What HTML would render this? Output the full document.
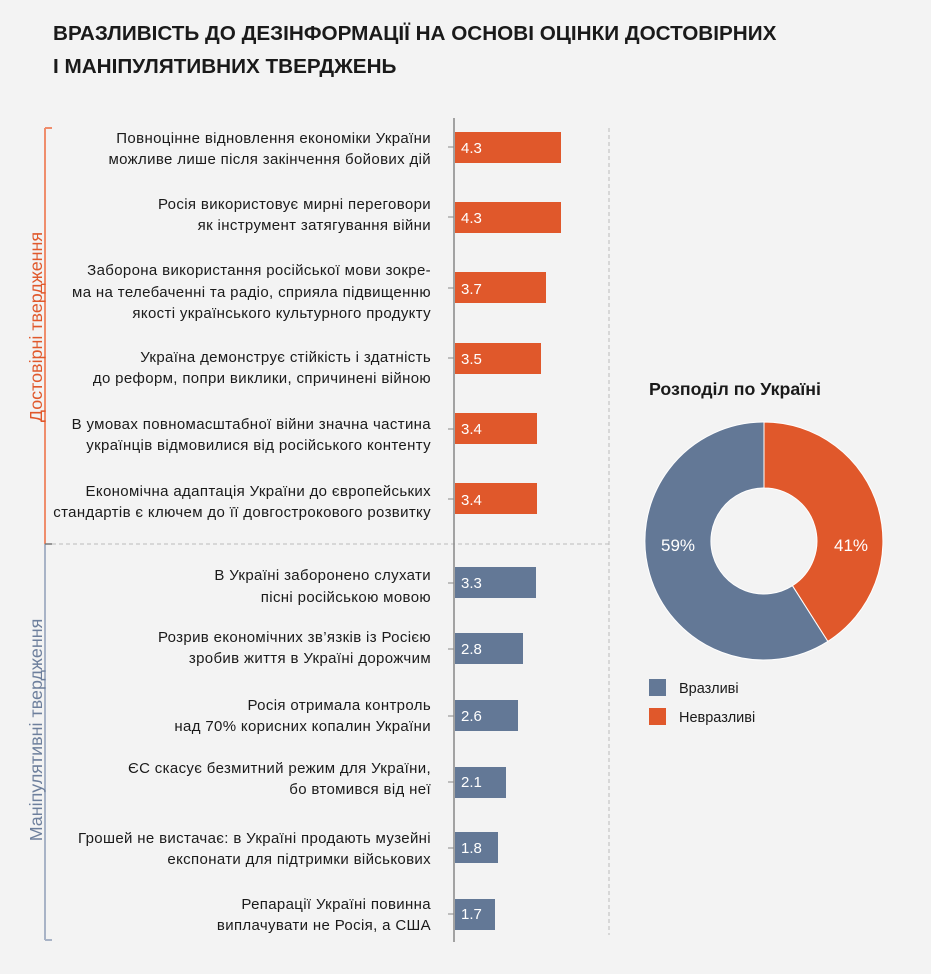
<!DOCTYPE html>
<html><head><meta charset="utf-8"><style>
html,body{margin:0;padding:0;background:#f3f3f3;}
svg{display:block;font-family:"Liberation Sans",sans-serif;}
</style></head><body>
<svg width="931" height="974" viewBox="0 0 931 974" xmlns="http://www.w3.org/2000/svg">
<rect width="931" height="974" fill="#f3f3f3"/>
<g font-size="20.7" font-weight="bold" fill="#1a1a1a">
<text x="53" y="40">ВРАЗЛИВІСТЬ ДО ДЕЗІНФОРМАЦІЇ НА ОСНОВІ ОЦІНКИ ДОСТОВІРНИХ</text>
<text x="53" y="73">І МАНІПУЛЯТИВНИХ ТВЕРДЖЕНЬ</text>
</g>
<line x1="45" y1="128" x2="45" y2="544" stroke="#ef8d6c" stroke-width="2"/>
<line x1="45" y1="128" x2="52" y2="128" stroke="#ef8d6c" stroke-width="2"/>
<line x1="45" y1="544" x2="45" y2="940" stroke="#a8b3c6" stroke-width="2"/>
<line x1="45" y1="940" x2="52" y2="940" stroke="#a8b3c6" stroke-width="2"/>
<line x1="45" y1="544" x2="52" y2="544" stroke="#777" stroke-width="1.5"/>
<line x1="52" y1="544" x2="609" y2="544" stroke="#bbb" stroke-width="1" stroke-dasharray="4,3"/>
<line x1="609" y1="128" x2="609" y2="935" stroke="#bbb" stroke-width="1" stroke-dasharray="4,3"/>
<text transform="translate(42,327) rotate(-90)" text-anchor="middle" font-size="17.9" fill="#e0582b">Достовірні твердження</text>
<text transform="translate(42,730) rotate(-90)" text-anchor="middle" font-size="17.9" fill="#6d7f9c">Маніпулятивні твердження</text>
<line x1="454" y1="118" x2="454" y2="942" stroke="#888" stroke-width="1.5"/>
<g fill="#e0582b">
<rect x="455" y="132" width="106" height="31"/>
<rect x="455" y="202" width="106" height="31"/>
<rect x="455" y="272" width="91" height="31"/>
<rect x="455" y="343" width="86" height="31"/>
<rect x="455" y="413" width="82" height="31"/>
<rect x="455" y="483" width="82" height="31"/>
</g>
<g fill="#637896">
<rect x="455" y="567" width="81" height="31"/>
<rect x="455" y="633" width="68" height="31"/>
<rect x="455" y="700" width="63" height="31"/>
<rect x="455" y="767" width="51" height="31"/>
<rect x="455" y="832" width="43" height="31"/>
<rect x="455" y="899" width="40" height="31"/>
</g>
<g stroke="#888" stroke-width="1">
<line x1="448" y1="147" x2="454" y2="147"/><line x1="448" y1="217" x2="454" y2="217"/>
<line x1="448" y1="288" x2="454" y2="288"/><line x1="448" y1="358" x2="454" y2="358"/>
<line x1="448" y1="429" x2="454" y2="429"/><line x1="448" y1="499" x2="454" y2="499"/>
<line x1="448" y1="583" x2="454" y2="583"/><line x1="448" y1="649" x2="454" y2="649"/>
<line x1="448" y1="716" x2="454" y2="716"/><line x1="448" y1="782" x2="454" y2="782"/>
<line x1="448" y1="848" x2="454" y2="848"/><line x1="448" y1="914" x2="454" y2="914"/>
</g>
<g font-size="15" fill="#fff">
<text x="461" y="153">4.3</text><text x="461" y="223">4.3</text>
<text x="461" y="294">3.7</text><text x="461" y="364">3.5</text>
<text x="461" y="434">3.4</text><text x="461" y="505">3.4</text>
<text x="461" y="588">3.3</text><text x="461" y="654">2.8</text>
<text x="461" y="721">2.6</text><text x="461" y="787">2.1</text>
<text x="461" y="853">1.8</text><text x="461" y="919">1.7</text>
</g>
<g font-size="15" letter-spacing="0.35" fill="#1a1a1a" text-anchor="end">
<text x="431" y="143">Повноцінне відновлення економіки України</text>
<text x="431" y="164">можливе лише після закінчення бойових дій</text>
<text x="431" y="209">Росія використовує мирні переговори</text>
<text x="431" y="230">як інструмент затягування війни</text>
<text x="431" y="275">Заборона використання російської мови зокре-</text>
<text x="431" y="297">ма на телебаченні та радіо, сприяла підвищенню</text>
<text x="431" y="318">якості українського культурного продукту</text>
<text x="431" y="362">Україна демонструє стійкість і здатність</text>
<text x="431" y="383">до реформ, попри виклики, спричинені війною</text>
<text x="431" y="429">В умовах повномасштабної війни значна частина</text>
<text x="431" y="450">українців відмовилися від російського контенту</text>
<text x="431" y="496">Економічна адаптація України до європейських</text>
<text x="431" y="517">стандартів є ключем до її довгострокового розвитку</text>
<text x="431" y="580">В Україні заборонено слухати</text>
<text x="431" y="602">пісні російською мовою</text>
<text x="431" y="642">Розрив економічних зв’язків із Росією</text>
<text x="431" y="663">зробив життя в Україні дорожчим</text>
<text x="431" y="710">Росія отримала контроль</text>
<text x="431" y="731">над 70% корисних копалин України</text>
<text x="431" y="773">ЄС скасує безмитний режим для України,</text>
<text x="431" y="794">бо втомився від неї</text>
<text x="431" y="843">Грошей не вистачає: в Україні продають музейні</text>
<text x="431" y="864">експонати для підтримки військових</text>
<text x="431" y="909">Репарації Україні повинна</text>
<text x="431" y="930">виплачувати не Росія, а США</text>
</g>
<text x="649" y="395" font-size="17.8" font-weight="bold" fill="#1a1a1a">Розподіл по Україні</text>
<path d="M764,422 A119,119 0 0 1 827.8,641.4 L792.4,585.7 A53,53 0 0 0 764,488 Z" fill="#e0582b" stroke="#fff" stroke-width="1"/>
<path d="M764,422 A119,119 0 1 0 827.8,641.4 L792.4,585.7 A53,53 0 1 1 764,488 Z" fill="#637896" stroke="#fff" stroke-width="1"/>
<text x="678" y="551" font-size="17" fill="#fff" text-anchor="middle">59%</text>
<text x="851" y="551" font-size="17" fill="#fff" text-anchor="middle">41%</text>
<rect x="649" y="679" width="17" height="17" fill="#637896"/>
<rect x="649" y="708" width="17" height="17" fill="#e0582b"/>
<text x="679" y="693" font-size="14.5" fill="#1a1a1a">Вразливі</text>
<text x="679" y="722" font-size="14.5" fill="#1a1a1a">Невразливі</text>
</svg>
</body></html>
